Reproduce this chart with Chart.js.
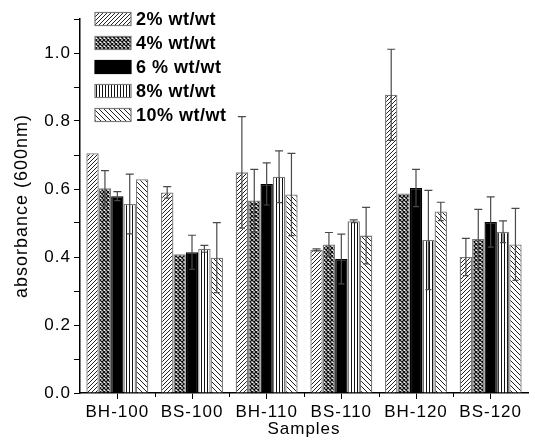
<!DOCTYPE html>
<html>
<head>
<meta charset="utf-8">
<script src="https://cdn.jsdelivr.net/npm/chart.js@4/dist/chart.umd.min.js"></script>
<style>
  html, body { margin: 0; padding: 0; background: #fff; }
  #wrap { width: 535px; height: 446px; }
</style>
</head>
<body>
<div id="wrap"><canvas id="absChart"></canvas></div>
<script>
const categories = ['BH-100', 'BS-100', 'BH-110', 'BS-110', 'BH-120', 'BS-120'];
const seriesNames = ['2% wt/wt', '4% wt/wt', '6 % wt/wt', '8% wt/wt', '10% wt/wt'];

// mean absorbance at 600 nm per loading
const abs2  = [0.705, 0.590, 0.649, 0.421, 0.877, 0.400];
const abs4  = [0.602, 0.408, 0.566, 0.437, 0.587, 0.453];
const abs6  = [0.579, 0.414, 0.615, 0.394, 0.603, 0.503];
const abs8  = [0.556, 0.424, 0.636, 0.505, 0.450, 0.474];
const abs10 = [0.629, 0.398, 0.584, 0.463, 0.534, 0.437];

// standard deviations
const err2  = [0.000, 0.017, 0.164, 0.003, 0.134, 0.055];
const err4  = [0.052, 0.000, 0.092, 0.035, 0.000, 0.087];
const err6  = [0.013, 0.050, 0.062, 0.073, 0.055, 0.074];
const err8  = [0.088, 0.010, 0.076, 0.004, 0.146, 0.032];
const err10 = [0.000, 0.103, 0.121, 0.083, 0.027, 0.106];

const FONT = "'Liberation Sans', Arial, sans-serif";

function makePattern(kind) {
    const c = document.createElement('canvas');
    const g = c.getContext('2d');
    if (kind === 'fwd') {
        c.width = c.height = 4;
        g.fillStyle = '#fff'; g.fillRect(0, 0, 4, 4);
        g.strokeStyle = '#222'; g.lineWidth = 1;
        g.beginPath();
        g.moveTo(-1, 5); g.lineTo(5, -1);
        g.moveTo(-1, 1); g.lineTo(1, -1);
        g.moveTo(3, 5); g.lineTo(5, 3);
        g.stroke();
    } else if (kind === 'cross') {
        c.width = c.height = 4;
        g.fillStyle = '#fff'; g.fillRect(0, 0, 4, 4);
        g.strokeStyle = '#111'; g.lineWidth = 1.3;
        g.beginPath();
        g.moveTo(0, 0); g.lineTo(4, 4);
        g.moveTo(4, 0); g.lineTo(0, 4);
        g.stroke();
    } else if (kind === 'vert') {
        c.width = 3; c.height = 3;
        g.fillStyle = '#fff'; g.fillRect(0, 0, 3, 3);
        g.fillStyle = '#111'; g.fillRect(0, 0, 1, 3);
    } else if (kind === 'back') {
        c.width = c.height = 5;
        g.fillStyle = '#fff'; g.fillRect(0, 0, 5, 5);
        g.strokeStyle = '#222'; g.lineWidth = 1;
        g.beginPath();
        g.moveTo(-1, -1); g.lineTo(6, 6);
        g.moveTo(4, -1); g.lineTo(6, 1);
        g.moveTo(-1, 4); g.lineTo(1, 6);
        g.stroke();
    }
    return g.createPattern(c, 'repeat');
}

const fills = [makePattern('fwd'), makePattern('cross'), '#000', makePattern('vert'), makePattern('back')];
const borders = ['#7a7a7a', '#7a7a7a', '#000', '#7a7a7a', '#7a7a7a'];
const values = [abs2, abs4, abs6, abs8, abs10];
const errors = [err2, err4, err6, err8, err10];

// slightly looser text tracking for all axis text
const tracking = {
    id: 'tracking',
    beforeDraw(chart) {
        chart.ctx.letterSpacing = '1px';
    }
};

// symmetric error bars with caps
const errorBars = {
    id: 'errorBars',
    afterDatasetsDraw(chart) {
        const ctx = chart.ctx;
        const y = chart.scales.y;
        ctx.save();
        ctx.strokeStyle = '#4a4a4a';
        ctx.lineWidth = 1.2;
        chart.data.datasets.forEach((ds, i) => {
            const meta = chart.getDatasetMeta(i);
            meta.data.forEach((bar, j) => {
                const e = ds.err[j];
                if (!e) return;
                const v = ds.data[j];
                const top = y.getPixelForValue(v + e);
                const bot = y.getPixelForValue(v - e);
                ctx.beginPath();
                ctx.moveTo(bar.x, top); ctx.lineTo(bar.x, bot);
                ctx.moveTo(bar.x - 4, top); ctx.lineTo(bar.x + 4, top);
                ctx.moveTo(bar.x - 3, bot); ctx.lineTo(bar.x + 3, bot);
                ctx.stroke();
            });
        });
        ctx.restore();
    }
};

// minor ticks between categories and the legend block inside the plot
const extras = {
    id: 'extras',
    afterDraw(chart) {
        const ctx = chart.ctx;
        const x = chart.scales.x;
        const y = chart.scales.y;
        ctx.save();
        ctx.strokeStyle = '#000';
        ctx.lineWidth = 1;
        const half = (x.getPixelForValue(1) - x.getPixelForValue(0)) / 2;
        for (let i = 0; i < categories.length - 1; i++) {
            const px = Math.round(x.getPixelForValue(i) + half) + 0.5;
            ctx.beginPath();
            ctx.moveTo(px, y.bottom); ctx.lineTo(px, y.bottom + 4);
            ctx.stroke();
        }

        ctx.letterSpacing = '0.5px';
        ctx.font = 'bold 18px ' + FONT;
        ctx.textBaseline = 'middle';
        chart.data.datasets.forEach((ds, i) => {
            const cy = 19 + i * 24;
            ctx.fillStyle = ds.backgroundColor;
            ctx.fillRect(95, cy - 6.5, 36, 13);
            ctx.strokeStyle = ds.borderColor;
            ctx.lineWidth = 1.2;
            ctx.strokeRect(95, cy - 6.5, 36, 13);
            ctx.fillStyle = '#000';
            ctx.fillText(ds.label, 136, cy + 1);
        });
        ctx.restore();
    }
};

new Chart(document.getElementById('absChart'), {
    type: 'bar',
    data: {
        labels: categories,
        datasets: seriesNames.map((name, i) => ({
            label: name,
            data: values[i],
            err: errors[i],
            backgroundColor: fills[i],
            borderColor: borders[i],
            borderWidth: 1.3,
            categoryPercentage: 0.83,
            barPercentage: 1.0
        }))
    },
    options: {
        responsive: true,
        maintainAspectRatio: false,
        animation: false,
        layout: { padding: { top: 19, right: 7, left: 0, bottom: 0 } },
        plugins: {
            legend: { display: false },
            tooltip: { enabled: false }
        },
        scales: {
            x: {
                afterFit(scale) { scale.height = 53; },
                grid: { display: true, drawOnChartArea: false, offset: false, tickLength: 6, color: '#000' },
                border: { display: true, color: '#000', width: 1.5 },
                ticks: { color: '#000', font: { family: FONT, size: 17 }, padding: 3, maxRotation: 0, autoSkip: false },
                title: { display: true, text: 'Samples', color: '#000', font: { family: FONT, size: 17 }, padding: { top: 0, bottom: 6 } }
            },
            y: {
                min: 0,
                max: 1.1,
                afterFit(scale) { scale.width = 80; },
                grid: { display: true, drawOnChartArea: false, tickLength: 6, color: '#000' },
                border: { display: true, color: '#000', width: 1.5 },
                ticks: {
                    stepSize: 0.1,
                    color: '#000',
                    padding: 3,
                    font: { family: FONT, size: 17 },
                    callback(v) {
                        const k = Math.round(v * 10);
                        return (k % 2 === 0 && k <= 10) ? (k / 10).toFixed(1) : '';
                    }
                },
                title: { display: true, text: 'absorbance (600nm)', color: '#000', font: { family: FONT, size: 18 }, padding: { top: 11, bottom: 0 } }
            }
        }
    },
    plugins: [tracking, errorBars, extras]
});
</script>
</body>
</html>
